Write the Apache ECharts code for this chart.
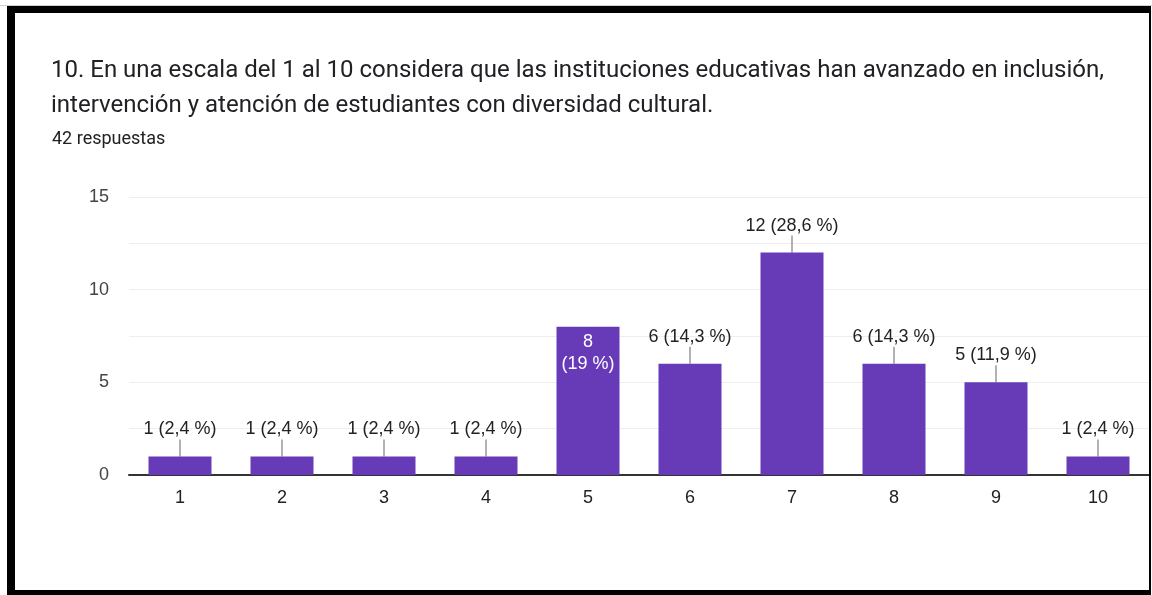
<!DOCTYPE html>
<html>
<head>
<meta charset="utf-8">
<script src="https://cdn.jsdelivr.net/npm/echarts@6/dist/echarts.min.js"></script>
<style>
html,body{margin:0;padding:0;background:#fff;}
#chart{position:absolute;left:0;top:0;width:1152px;height:595px;}
#frame{position:absolute;left:7px;top:6px;width:1144px;height:589px;box-sizing:border-box;border-style:solid;border-color:#000;border-width:7px 2px 5px 8px;pointer-events:none;}
#topline{position:absolute;left:0;top:5px;width:1152px;height:1px;background:#d0d0d0;}
</style>
</head>
<body>
<div id="chart"></div>
<div id="topline"></div>
<div id="frame"></div>
<script>
const titleLine1 = '10. En una escala del 1 al 10 considera que las instituciones educativas han avanzado en inclusión,';
const titleLine2 = 'intervención y atención de estudiantes con diversidad cultural.';
const subtitle = '42 respuestas';
const categories = ['1','2','3','4','5','6','7','8','9','10'];
const counts = [1,1,1,1,8,6,12,6,5,1];
const percents = ['2,4','2,4','2,4','2,4','19','14,3','28,6','14,3','11,9','2,4'];
const yTicks = [0,5,10,15];

const chart = echarts.init(document.getElementById('chart'));
const titleFont = 'Roboto, Arial, sans-serif';
const font = '"Liberation Sans", Arial, sans-serif';
const insideIdx = 4;

const barData = counts.map((v,i)=>{
  const item = {value:v};
  if(i===insideIdx){
    item.label = {position:'insideTop', distance:4, color:'#fff', formatter: v+'\n('+percents[i]+' %)', lineHeight:22};
  }
  return item;
});

chart.setOption({
  animation:false,
  title:[
    {text:titleLine1+'\n'+titleLine2, left:51, top:53, padding:0, textStyle:{fontFamily:titleFont, fontSize:24, fontWeight:'normal', color:'#202124', lineHeight:35}},
    {text:subtitle, left:52, top:128, padding:0, textStyle:{fontFamily:titleFont, fontSize:18, fontWeight:'normal', color:'#202124', lineHeight:22}}
  ],
  grid:{left:129, right:3, top:197, bottom:120, containLabel:false},
  xAxis:{
    type:'category', data:categories,
    axisLine:{lineStyle:{color:'#333', width:2}},
    axisTick:{show:false},
    axisLabel:{fontFamily:font, fontSize:18, color:'#222', margin:14}
  },
  yAxis:{
    type:'value', min:0, max:15, interval:2.5,
    axisLine:{show:false}, axisTick:{show:false},
    axisLabel:{fontFamily:font, fontSize:18, color:'#444', margin:20,
      formatter:v=> yTicks.indexOf(v)>=0 ? String(v) : ''},
    splitLine:{lineStyle:{color:'#eeeeee', width:1}}
  },
  series:[
    {
      type:'bar', data:barData, barWidth:63,
      itemStyle:{color:'#673ab7'},
      label:{show:true, position:'top', distance:18, fontFamily:font, fontSize:18, color:'#222',
        formatter:p=> p.value+' ('+percents[p.dataIndex]+' %)'}
    },
    {
      type:'custom', data:counts.map((v,i)=>[i,v]), z:1,
      renderItem:(params, api)=>{
        const i = api.value(0);
        if(i===insideIdx) return null;
        const p = api.coord([i, api.value(1)]);
        return {type:'line', shape:{x1:p[0], y1:p[1], x2:p[0], y2:p[1]-17}, style:{stroke:'#999', lineWidth:1.5}};
      },
      silent:true
    }
  ]
});
</script>
</body>
</html>
